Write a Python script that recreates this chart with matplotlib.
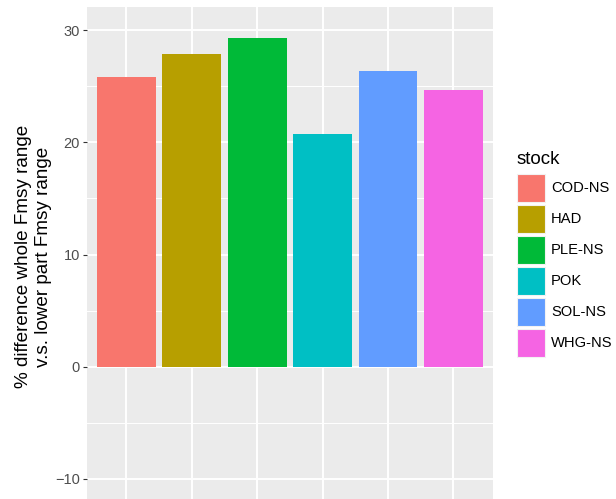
import matplotlib
matplotlib.use('Agg')
import matplotlib.pyplot as plt
from matplotlib.patches import Rectangle
from matplotlib.ticker import MultipleLocator

plt.rcParams['font.family'] = ['Liberation Sans', 'DejaVu Sans']

stocks = ['COD-NS', 'HAD', 'PLE-NS', 'POK', 'SOL-NS', 'WHG-NS']
pct_diff = [25.8, 27.9, 29.3, 20.7, 26.4, 24.7]
colors = ['#F8766D', '#B79F00', '#00BA38', '#00BFC4', '#619CFF', '#F564E3']

W, H = 616, 499
fig = plt.figure(figsize=(W / 100, H / 100), dpi=100)
ax = fig.add_axes([87 / W, 0, (492.7 - 87) / W, 1 - 7 / H])

xpos = list(range(1, len(stocks) + 1))
ax.bar(xpos, pct_diff, width=0.9, color=colors, zorder=3)

ax.set_facecolor('#EBEBEB')
ax.set_xlim(0.4, 6.6)
ax.set_ylim(-11.79, 32.06)
ax.yaxis.set_major_locator(MultipleLocator(10))
ax.yaxis.set_minor_locator(MultipleLocator(5))
ax.set_xticks(xpos)
ax.set_xticklabels([])
ax.grid(which='major', color='white', linewidth=1.4, zorder=0)
ax.grid(which='minor', axis='y', color='white', linewidth=0.7, zorder=0)
ax.set_axisbelow(True)
for s in ax.spines.values():
    s.set_visible(False)
ax.tick_params(axis='y', which='major', length=3, width=0.8, color='#333333',
               labelsize=10.5, labelcolor='#4D4D4D', pad=2)
ax.tick_params(axis='y', which='minor', length=0)
ax.tick_params(axis='x', length=0)

fig.text(33.5 / W, 1 - 256.7 / H, '% difference whole Fmsy range\nv.s. lower part Fmsy range',
         rotation=90, ha='center', va='center', fontsize=13.6, linespacing=1.2)

# legend drawn by hand, ggplot style
fig.text(516.5 / W, 1 - 160 / H, 'stock', fontsize=13.5, ha='left', va='center')
for i, (name, c) in enumerate(zip(stocks, colors)):
    top = 174 + 31 * i
    fig.patches.append(Rectangle((516.5 / W, 1 - (top + 28) / H), 28 / W, 28 / H,
                                 transform=fig.transFigure, facecolor=c,
                                 edgecolor='#F2F2F2', linewidth=0.8))
    fig.text(551 / W, 1 - (top + 14) / H, name, fontsize=10.6, ha='left', va='center')

fig.savefig('out.png', dpi=100)
